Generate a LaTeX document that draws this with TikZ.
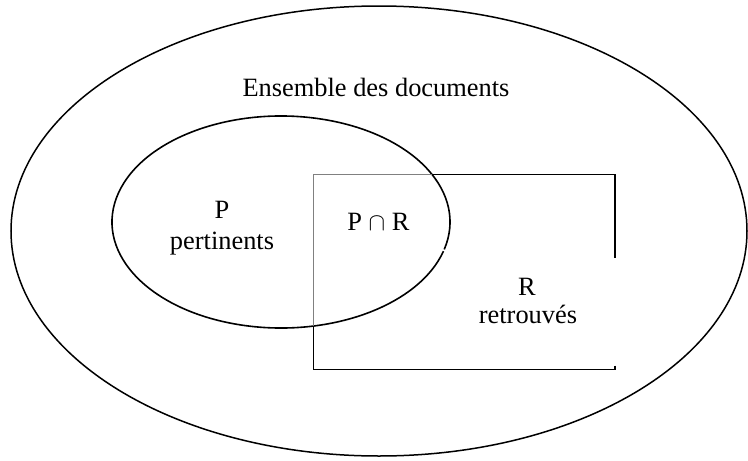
\documentclass[tikz,border=0pt]{standalone}
\usepackage{fontspec}
\setmainfont{Liberation Serif}
\begin{document}
\begin{tikzpicture}[x=1pt,y=-1pt,
  lbl/.style={anchor=base,inner sep=0pt,font=\fontsize{26.4}{30}\selectfont},
  blk/.style={draw=black,line width=1.6pt},
  gry/.style={draw=black!50,line width=1.6pt}]
\useasboundingbox (0,0) rectangle (748,461);
% big ellipse
\draw[line width=1.5pt] (379,231) ellipse [x radius=368, y radius=225];
% small ellipse with tiny break on the right
\draw[line width=1.6pt] (281,222) ++(16:169 and 106) arc [start angle=16, end angle=375, x radius=169, y radius=106];
% rectangle R
\coordinate (rTL) at (313.5,174.5);
\coordinate (rTI) at (431.5,174.5);
\coordinate (rTR) at (615,174.5);
\coordinate (rRG) at (615,258);
\coordinate (rRT) at (615,365.5);
\coordinate (rBR) at (615,369.5);
\coordinate (rBL) at (313.5,369.5);
\coordinate (rLI) at (313.5,326);
\draw[gry] (rLI) -- (rTL) -- (rTI);
\draw[blk] (rTI) -- (rTR) -- (rRG);
\draw[blk] (rRT) -- (rBR) -- (rBL) -- (rLI);
% labels
\node[lbl] (ens) at (376,96) {Ensemble des documents};
\node[lbl] (p1) at (222,218) {P};
\node[lbl] (p2) at (222,249) {pertinents};
\node[lbl] (pr) at (378.5,230) {P $\cap$ R};
\node[lbl] (r1) at (527,295) {R};
\node[lbl] (r2) at (528,323) {retrouvés};
\end{tikzpicture}
\end{document}
